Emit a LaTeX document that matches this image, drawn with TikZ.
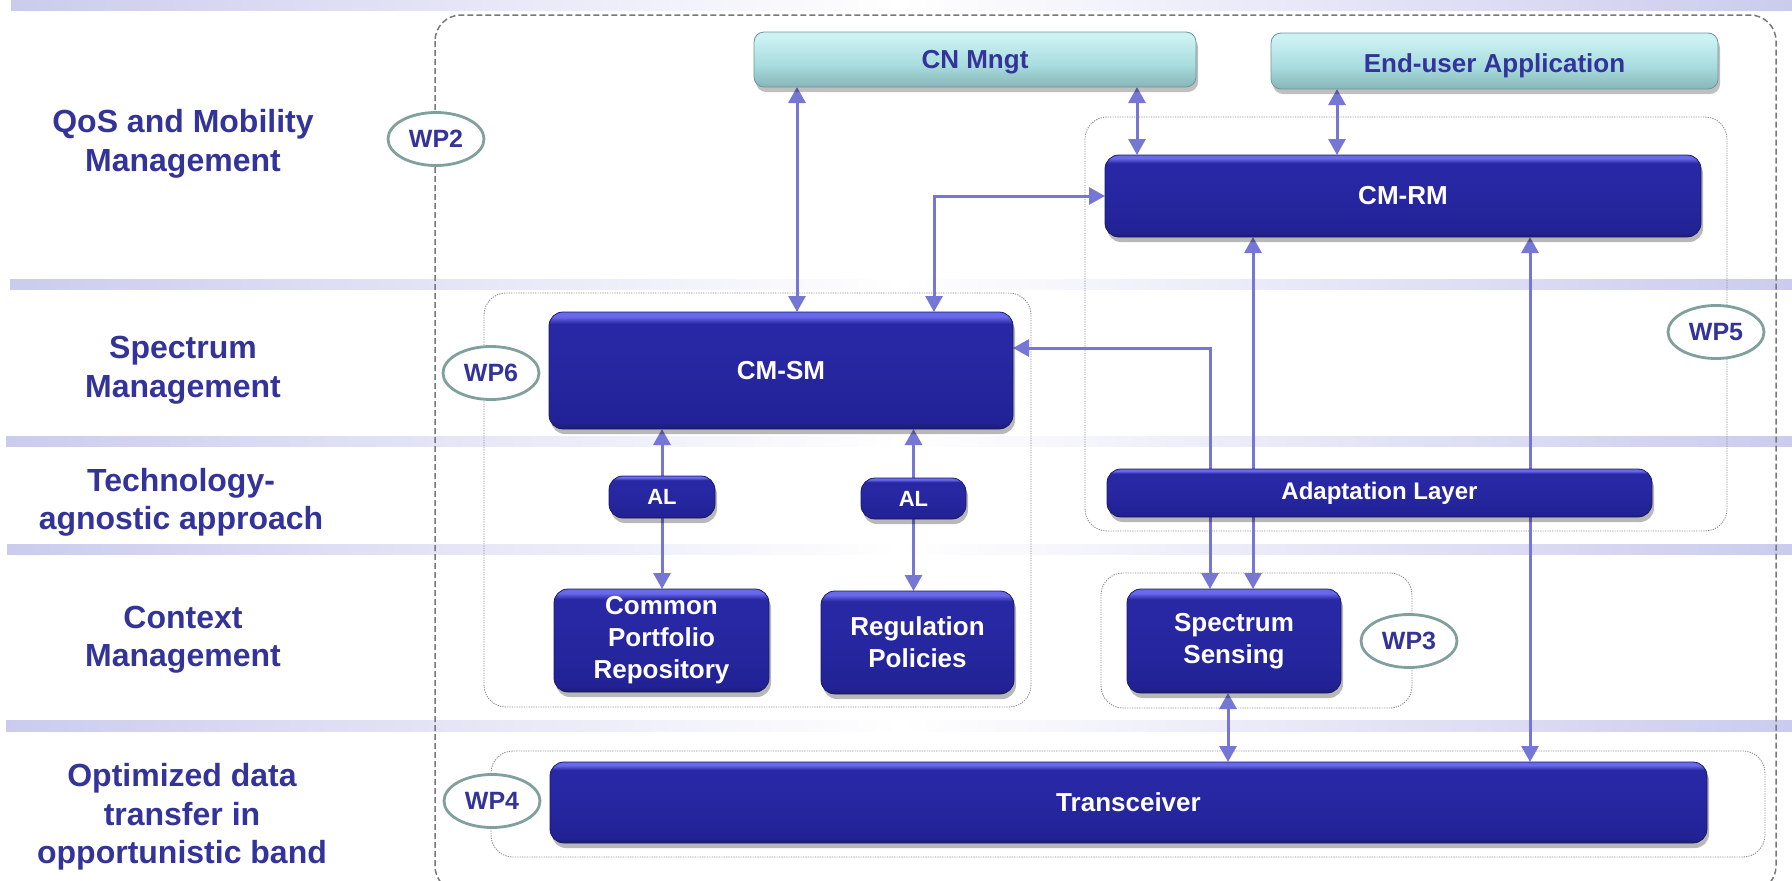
\documentclass[tikz,border=0pt]{standalone}
\usepackage{fontspec}
\setmainfont{Liberation Sans}
\usetikzlibrary{arrows.meta,shapes.geometric,shadows}

\definecolor{labelblue}{RGB}{51,51,153}
\definecolor{bandc}{RGB}{203,203,238}
\definecolor{arrowc}{RGB}{118,118,212}
\definecolor{wpring}{RGB}{128,160,155}
\definecolor{zonegray}{RGB}{140,140,140}
\definecolor{outergray}{RGB}{120,120,120}
\definecolor{navytop}{RGB}{105,105,235}
\definecolor{navymid}{RGB}{40,40,165}
\definecolor{navylow}{RGB}{34,34,150}
\definecolor{navybot}{RGB}{28,28,115}
\definecolor{navyedge}{RGB}{25,25,100}
\definecolor{tealtop}{RGB}{205,242,244}
\definecolor{tealmid}{RGB}{168,220,222}
\definecolor{tealbot}{RGB}{135,182,184}
\definecolor{tealedge}{RGB}{110,150,152}

% glossy fills for the component boxes (path spans 25bp..75bp)
\pgfdeclareverticalshading{navyfill}{100bp}{color(0bp)=(navybot); color(25bp)=(navybot); color(28bp)=(navylow); color(60bp)=(navymid); color(70bp)=(navymid); color(73bp)=(navytop); color(75bp)=(navytop); color(100bp)=(navytop)}
\pgfdeclareverticalshading{tealfill}{100bp}{color(0bp)=(tealbot); color(25bp)=(tealbot); color(45bp)=(tealmid); color(71bp)=(tealtop); color(75bp)=(tealtop); color(100bp)=(tealtop)}

\pgfdeclarelayer{bg}
\pgfdeclarelayer{lines}
\pgfsetlayers{bg,lines,main}

\begin{document}
\begin{tikzpicture}[
  x=1pt, y=-1pt,
  lbl/.style={text=labelblue, font=\fontsize{32}{38.5}\selectfont\bfseries, align=center, inner sep=0},
  wpmark/.style={ellipse, draw=wpring, line width=2.8pt, fill=white, minimum width=96pt,
    minimum height=53pt, inner sep=0, text=labelblue, font=\fontsize{25}{30}\selectfont\bfseries},
  navybox/.style={shade, shading=navyfill, draw=navyedge, line width=0.8pt, rounded corners=14pt,
    text=white, font=\fontsize{26}{32}\selectfont\bfseries, align=center, inner sep=0, outer sep=0,
    drop shadow={shadow xshift=2pt, shadow yshift=-5pt, opacity=0.28, fill=black}},
  tealbox/.style={shade, shading=tealfill, draw=tealedge, line width=0.8pt, rounded corners=10pt,
    text=labelblue, font=\fontsize{26}{32}\selectfont\bfseries, align=center, inner sep=0, outer sep=0,
    drop shadow={shadow xshift=2pt, shadow yshift=-5pt, opacity=0.25, fill=black}},
  zone/.style={draw=zonegray, line width=0.9pt, dash pattern=on 1.2pt off 1.2pt, rounded corners=22pt},
  outerzone/.style={draw=outergray, line width=1.5pt, dash pattern=on 6pt off 3pt, rounded corners=26pt},
  link/.style={draw=arrowc, line width=3pt, >={Triangle[length=16pt,width=17pt]}},
]
\useasboundingbox (0,0) rectangle (1792,881);

% ---------- layer titles ----------
\node[lbl] (t1) at (183,144) {QoS and Mobility\\Management};
\node[lbl] (t2) at (183,370) {Spectrum\\Management};
\node[lbl] (t3) at (181,502.5) {Technology-\\agnostic approach};
\node[lbl] (t4) at (183,639.5) {Context\\Management};
\node[lbl] (t5) at (182,817) {Optimized data\\transfer in\\opportunistic band};

% ---------- components ----------
\node[tealbox, minimum width=442pt, minimum height=55pt, text height=21pt, text depth=3pt] (cn)  at (975,59.5) {CN Mngt};
\node[tealbox, minimum width=447pt, minimum height=56pt, text height=22pt, text depth=0pt] (eua) at (1494.5,61) {End-user Application};
\node[navybox, minimum width=596pt, minimum height=82pt] (cmrm) at (1403,196) {CM-RM};
\node[navybox, minimum width=464pt, minimum height=117pt] (cmsm) at (781,370.5) {CM-SM};
\node[navybox, minimum width=106pt, minimum height=42pt, font=\fontsize{22}{26}\selectfont\bfseries] (al1) at (662,497) {AL};
\node[navybox, minimum width=105pt, minimum height=41pt, font=\fontsize{22}{26}\selectfont\bfseries] (al2) at (913.5,498.5) {AL};
\node[navybox, minimum width=215pt, minimum height=103pt] (cpr) at (661.5,640.5) {Common\\Portfolio\\Repository};
\node[navybox, minimum width=193pt, minimum height=103pt] (reg) at (917.5,642.5) {Regulation\\Policies};
\node[navybox, minimum width=545pt, minimum height=48pt, font=\fontsize{24}{28}\selectfont\bfseries] (adl) at (1379.5,493) {Adaptation Layer};
\node[navybox, minimum width=214pt, minimum height=104pt] (ss) at (1234,641) {Spectrum\\Sensing};
\node[navybox, minimum width=1157pt, minimum height=81pt] (trx) at (1128.5,802.5) {Transceiver};

% ---------- work package tags ----------
\node[wpmark] (wp2) at (436,139) {WP2};
\node[wpmark] (wp6) at (491,373) {WP6};
\node[wpmark] (wp5) at (1716,332) {WP5};
\node[wpmark] (wp3) at (1409,641) {WP3};
\node[wpmark] (wp4) at (492,801) {WP4};

% ---------- background: bands and work package areas ----------
\begin{pgfonlayer}{bg}
  \shade[left color=bandc, right color=white] (11,0) rectangle (900,10);
  \shade[left color=white, right color=bandc] (900,0) rectangle (1792,10);
  \shade[left color=bandc, right color=white] (10,279) rectangle (900,289);
  \shade[left color=white, right color=bandc] (900,279) rectangle (1792,289);
  \shade[left color=bandc, right color=white] (6,436) rectangle (900,446);
  \shade[left color=white, right color=bandc] (900,436) rectangle (1792,446);
  \shade[left color=bandc, right color=white] (7,544) rectangle (900,554);
  \shade[left color=white, right color=bandc] (900,544) rectangle (1792,554);
  \shade[left color=bandc, right color=white] (6,720) rectangle (900,731);
  \shade[left color=white, right color=bandc] (900,720) rectangle (1792,731);

  \draw[outerzone] (435,15) rectangle (1776,892);
  \draw[zone] (1085,117) rectangle (1727,531);
  \draw[zone] (484,293) rectangle (1031,707);
  \draw[zone] (1101,573) rectangle (1412,708);
  \draw[zone] (491,751) rectangle (1765,857);
\end{pgfonlayer}

% ---------- connectors ----------
\coordinate (k1) at (797,0);
\coordinate (k2) at (1137,0);
\coordinate (k3) at (1337,0);
\coordinate (k4) at (934,0);
\coordinate (jog) at (1210,348);
\coordinate (k5) at (1253,0);
\coordinate (k6) at (1530,0);
\coordinate (k7) at (1228,0);
\begin{pgfonlayer}{lines}
  \draw[link,<->] (cn.south -| k1) -- (cmsm.north -| k1);
  \draw[link,<->] (cn.south -| k2) -- (cmrm.north -| k2);
  \draw[link,<->] (eua.south -| k3) -- (cmrm.north -| k3);
  \draw[link,<->] (cmsm.north -| k4) |- (cmrm.west);
  \draw[link,->] (al1.north) -- (cmsm.south -| al1.north);
  \draw[link,->] (al1.south) -- (cpr.north -| al1.south);
  \draw[link,->] (al2.north) -- (cmsm.south -| al2.north);
  \draw[link,->] (al2.south) -- (reg.north -| al2.south);
  \draw[link,<->] (ss.north -| jog) -- (jog) -- (cmsm.east |- jog);
  \draw[link,<->] (ss.north -| k5) -- (cmrm.south -| k5);
  \draw[link,<->] (trx.north -| k6) -- (cmrm.south -| k6);
  \draw[link,<->] (ss.south -| k7) -- (trx.north -| k7);
\end{pgfonlayer}
\end{tikzpicture}
\end{document}
